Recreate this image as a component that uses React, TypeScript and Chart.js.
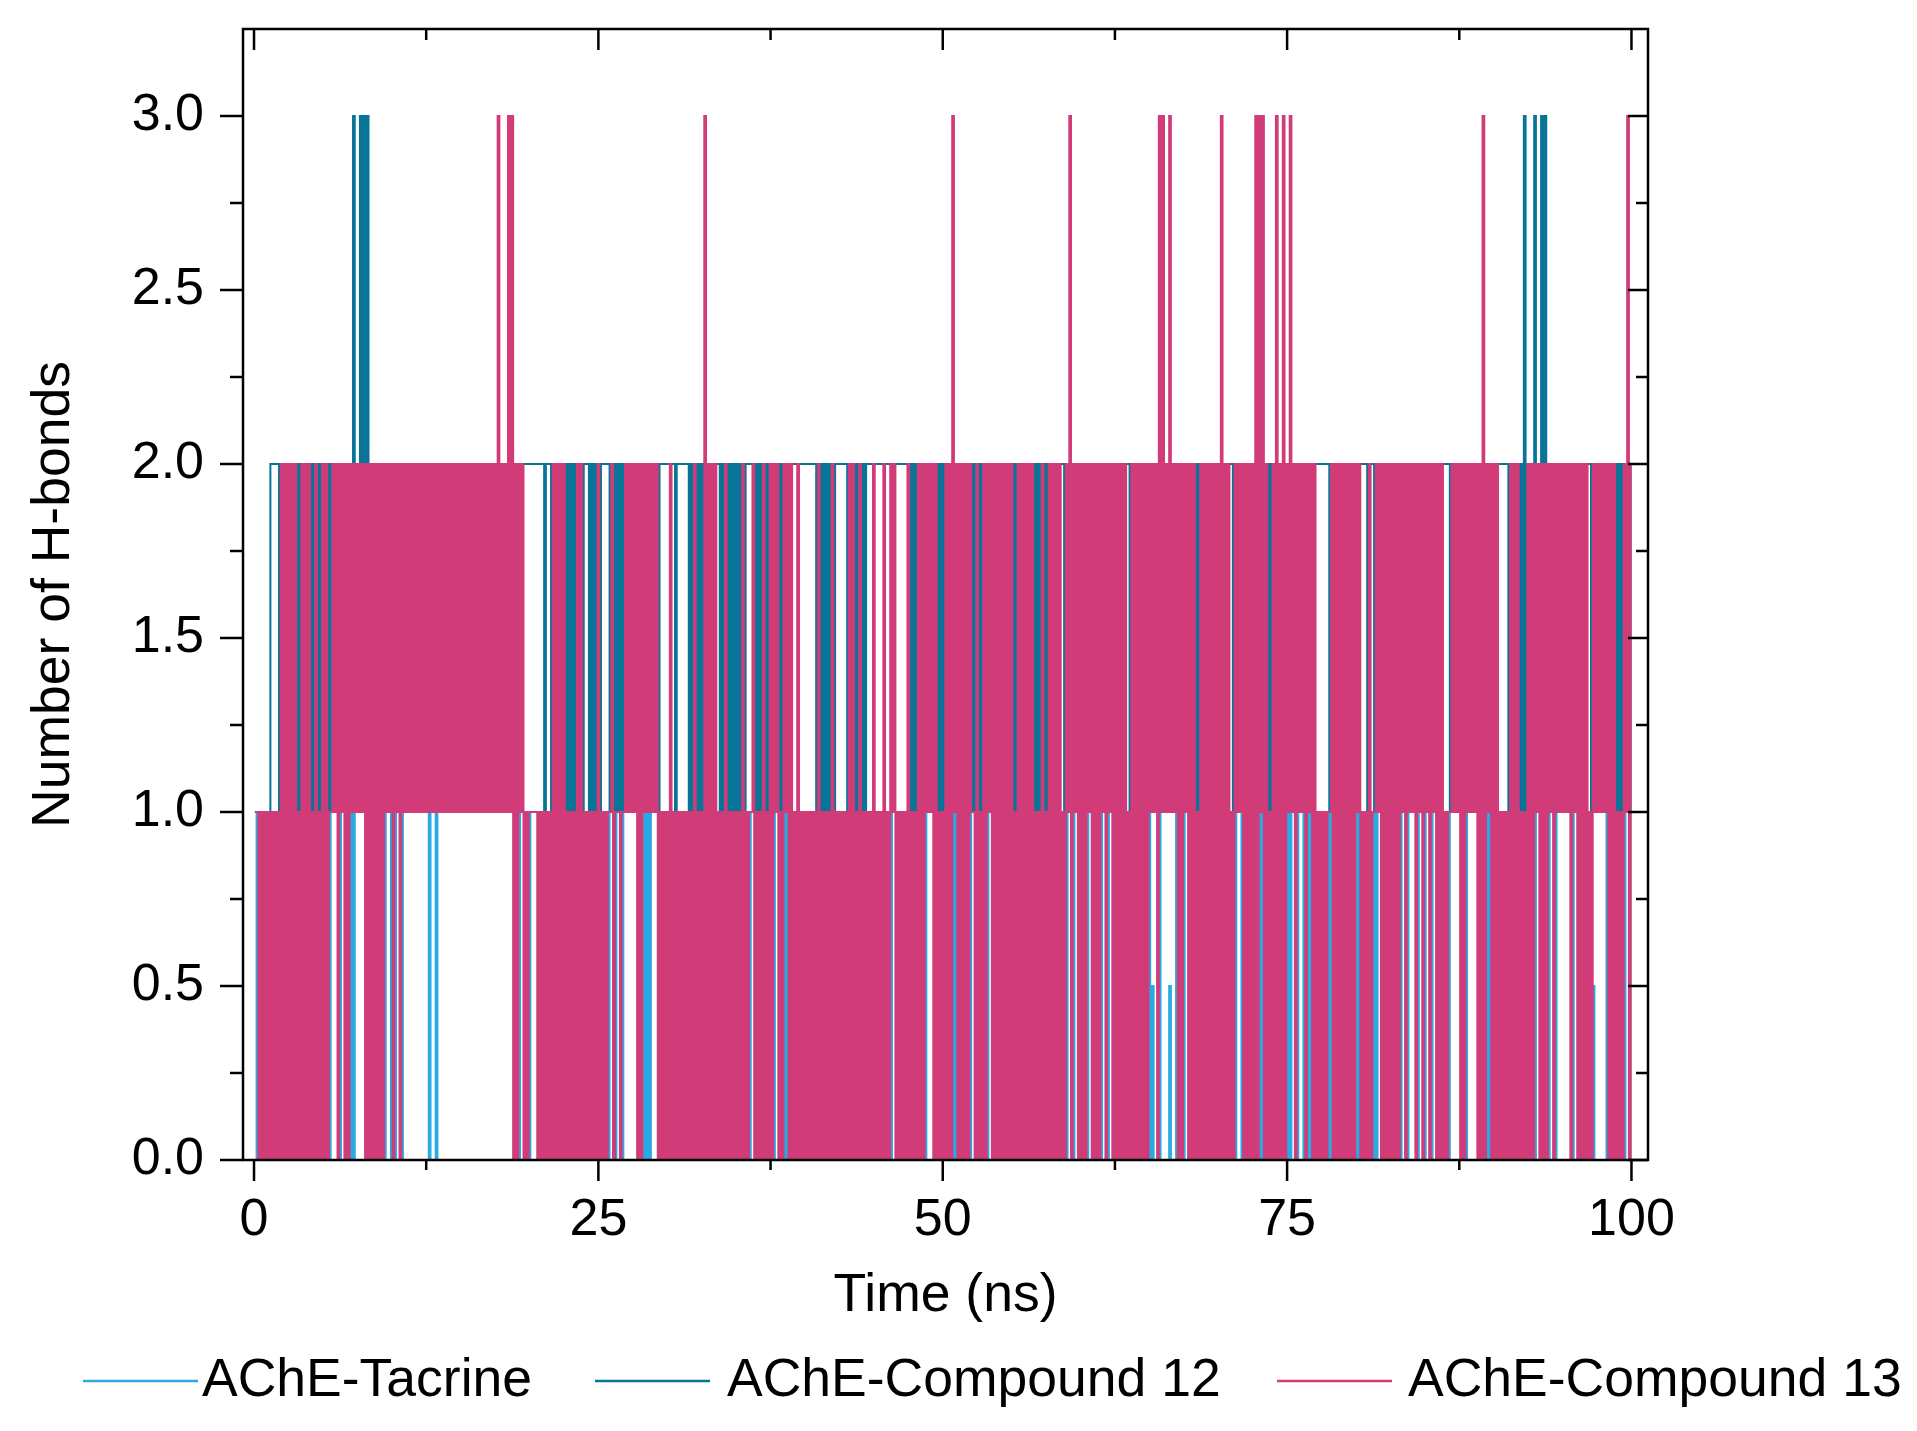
import React, { useEffect, useRef } from "react";
import { Chart, registerables } from "chart.js";

Chart.register(...registerables);

// ---------- data ----------
const seriesLabels = ["AChE-Tacrine", "AChE-Compound 12", "AChE-Compound 13"];
const seriesColors = ["#2aaae2", "#087598", "#d03b78"];

// Each character is one 0.25 ns time bin (groups of 4 = 1 ns, one string = 10 ns).
// The character gives the range [min, max] of the H-bond count inside that bin.
const binWidthNs = 0.25;
const binCodeRange: Record<string, [number, number]> = {
  "0": [0, 0],
  "1": [1, 1],
  "2": [2, 2],
  h: [0, 0.5],
  a: [0, 1],
  b: [1, 2],
  c: [0, 2],
  e: [1, 3],
  f: [0, 3],
};

const tacrineBins = [
  "aaaa aaaa aaaa aaaa aaaa aa00 a0aa a000 aaaa aa0a",
  "a0a0 0000 00a0 a000 0000 0000 0000 0000 000a a0aa",
  "00aa aaaa aaaa aaaa aaaa aaa0 a0a0 000a aaa0 0aaa",
  "aaaa aaaa aaaa aaaa aaaa aaaa 0aaa aaa0 aaaa aaaa",
  "aaaa aaaa aaaa aaaa aaaa aaaa a0aa aaaa aaa0 0aaa",
  "aaaa aaaa 0aaa a0aa aaaa aaaa aaaa aaaa aaaa 0a0a",
  "aa0a aa0a 0aaa aaaa aaaa h0a0 0h0a aa0a aaaa aaaa",
  "aaaa a0aa aaaa aaaa aaaa a0a0 aaaa aaaa aaaa aaaa",
  "aaaa aa0a aaaa a0a0 0a0a 0a0a aaa0 00aa 000a aaaa",
  "aaaa aaaa aaaa 0aaa 0a00 00a0 aaaa h000 aaaa aa0a",
];

const compound12Bins = [
  "1111 b22b bbbb bbbb bbbb bbbb bbbb ebee ebbb bbbb",
  "bbbb bbbb bbbb bbbb bbbb bbbb bbbb bbbb bbbb bb22",
  "2222 b2bb bbbb bbbb 2bbb b22b cbbb bbbb bbbb bb22",
  "22b2 22bb bbbb bb2b bbbb bbb2 2bbb bbbb bbbb 2222",
  "222b bbbb b222 bbbb bb22 2222 2222 22bb bbbb bbbb",
  "bbbb bbbb bbbb bbbb bbbb bbbb bbbb bbbb bb2b bbbb",
  "bbbb bbbb bbbb b2bb bbbb bbbb bbbb bbbb bbbb bbbb",
  "bbb2 bbbb bbbb bbbb bbbb bbbb bbbb 2222 bbbb bbbb",
  "b22b 2bbb bbbb bbbb bbbb bbbb b22b bbbb bbbb bbbb",
  "b222 bbbb ebbe beeb bbbb bbbb bbb2 bbbb bbbb bbbb",
];

const compound13Bins = [
  "1aaa aaac cccc accc acac cabb cbcc bbbb cccc ccbb",
  "cbcb bbbb bbbb bbbb bbbb bbbb bbbb bbeb beec cbaa",
  "11aa aacc ccaa acca aaac aaab a1ab bbbc cbbb baaa",
  "caaa aaac aafc ccaa caaa acaa baac accb acbc acaa",
  "aaac aaac aaaa ccac aaac aaca cbaa acaa cccb bcaa",
  "ccfb cccc 1cac cbcc cccc accc ccaa cacc ccac ecbc",
  "ccbc ccbc bccc cacc cccc bbfe bebb ccbc cacc cccc",
  "fcca cbbc ccff ecac fcfc ebcb bcbc aaaa bccc cccc",
  "baac abbc cccc cbcb bcbc bcbc caab bbcc bbbc fcbc",
  "caaa ccca accc bccc bcbb bbcb ccca cbbb bcca acec",
];

const xRange = [-0.8, 101.2];
const yRange = [0, 3.25];
const xMajorTicks = [0, 25, 50, 75, 100];
const xMinorTicks = [12.5, 37.5, 62.5, 87.5];
const yMajorTicks = [0, 0.5, 1, 1.5, 2, 2.5, 3];
const yMinorTicks = [0.25, 0.75, 1.25, 1.75, 2.25, 2.75];
const xTitle = "Time (ns)";
const yTitle = "Number of H-bonds";

// ---------- styling / layout ----------
const FONT = '"Liberation Sans", Arial, Helvetica, sans-serif';
const TICK_SIZE = 52;
const TEXT_SIZE = 53.5;
const legendLineLeft = [83, 595, 1277];
const legendTextLeft = [202, 727, 1408];
const legendLineLength = 115;
const legendY = 1381;

function decodeBins(rows: string[]) {
  const codes = rows.join("").replace(/\s+/g, "");
  const pts: { x: number; y: number }[] = [];
  for (let i = 0; i < codes.length; i++) {
    const range = binCodeRange[codes[i]];
    const t0 = i * binWidthNs;
    pts.push({ x: t0 + binWidthNs * 0.25, y: range[0] });
    pts.push({ x: t0 + binWidthNs * 0.75, y: range[1] });
  }
  return pts;
}

const framePlugin = {
  id: "originFrame",
  afterDraw(chart: any) {
    const { ctx, chartArea } = chart;
    const { left, right, top, bottom } = chartArea;
    const xs = chart.scales.x;
    const ys = chart.scales.y;
    ctx.save();
    ctx.strokeStyle = "#000";
    ctx.lineWidth = 2.5;
    ctx.lineCap = "butt";
    ctx.strokeRect(left, top, right - left, bottom - top);
    const seg = (x1: number, y1: number, x2: number, y2: number) => {
      ctx.beginPath();
      ctx.moveTo(x1, y1);
      ctx.lineTo(x2, y2);
      ctx.stroke();
    };
    xMajorTicks.forEach((v) => {
      const p = xs.getPixelForValue(v);
      seg(p, bottom, p, bottom + 21);
      seg(p, top, p, top + 21);
    });
    xMinorTicks.forEach((v) => {
      const p = xs.getPixelForValue(v);
      seg(p, bottom, p, bottom + 10);
      seg(p, top, p, top + 11);
    });
    yMajorTicks.forEach((v) => {
      const p = ys.getPixelForValue(v);
      seg(left - 23, p, left, p);
      seg(right, p, right - 20, p);
    });
    yMinorTicks.forEach((v) => {
      const p = ys.getPixelForValue(v);
      seg(left - 13, p, left, p);
      seg(right, p, right - 12, p);
    });

    // legend (line sample + label)
    ctx.font = `${TEXT_SIZE}px ${FONT}`;
    ctx.textBaseline = "middle";
    ctx.textAlign = "left";
    chart.data.datasets.forEach((ds: any, i: number) => {
      ctx.strokeStyle = ds.borderColor;
      ctx.lineWidth = 2.5;
      seg(legendLineLeft[i], legendY, legendLineLeft[i] + legendLineLength, legendY);
      ctx.fillStyle = "#000";
      ctx.fillText(ds.label, legendTextLeft[i], legendY);
    });
    ctx.restore();
  },
};

export default function App() {
  const canvasRef = useRef<HTMLCanvasElement | null>(null);

  useEffect(() => {
    const canvas = canvasRef.current;
    if (!canvas) return;
    const allBins = [tacrineBins, compound12Bins, compound13Bins];
    const chart = new Chart(canvas, {
      type: "line",
      data: {
        datasets: allBins.map((bins, i) => ({
          label: seriesLabels[i],
          data: decodeBins(bins),
          borderColor: seriesColors[i],
          backgroundColor: seriesColors[i],
          borderWidth: 2,
          pointRadius: 0,
          tension: 0,
          stepped: true,
          fill: false,
          borderJoinStyle: "miter",
          order: 2 - i,
        })),
      },
      options: {
        responsive: false,
        animation: false,
        devicePixelRatio: 1,
        parsing: false,
        normalized: true,
        events: [],
        layout: { padding: { left: 0, top: 29, right: 269, bottom: 0 } },
        plugins: {
          legend: { display: false },
          tooltip: { enabled: false },
          title: { display: false },
        },
        scales: {
          x: {
            type: "linear",
            position: "bottom",
            min: xRange[0],
            max: xRange[1],
            afterBuildTicks: (s: any) => {
              s.ticks = xMajorTicks.map((v) => ({ value: v }));
            },
            afterFit: (s: any) => {
              s.height = 271;
            },
            ticks: {
              font: { family: FONT, size: TICK_SIZE },
              color: "#000",
              padding: 7,
              maxRotation: 0,
              autoSkip: false,
              callback: (v: any) => String(v),
            },
            grid: {
              drawOnChartArea: false,
              drawTicks: true,
              tickLength: 22,
              color: "rgba(0,0,0,0)",
            },
            border: { display: false },
            title: {
              display: true,
              text: xTitle,
              font: { family: FONT, size: TEXT_SIZE },
              color: "#000",
              padding: { top: 0, bottom: 103 },
            },
          },
          y: {
            type: "linear",
            position: "left",
            min: yRange[0],
            max: yRange[1],
            afterBuildTicks: (s: any) => {
              s.ticks = yMajorTicks.map((v) => ({ value: v }));
            },
            afterFit: (s: any) => {
              s.width = 243;
            },
            ticks: {
              font: { family: FONT, size: TICK_SIZE, lineHeight: 1 },
              color: "#000",
              padding: 0,
              autoSkip: false,
              callback: (v: any) => Number(v).toFixed(1),
            },
            grid: {
              drawOnChartArea: false,
              drawTicks: true,
              tickLength: 39,
              color: "rgba(0,0,0,0)",
            },
            border: { display: false },
            title: {
              display: true,
              text: yTitle,
              font: { family: FONT, size: TEXT_SIZE },
              color: "#000",
              padding: { top: 22, bottom: 0 },
            },
          },
        },
      } as any,
      plugins: [framePlugin],
    });
    return () => chart.destroy();
  }, []);

  return (
    <div style={{ position: "absolute", left: 0, top: 0, width: 1917, height: 1431, background: "#fff" }}>
      <canvas ref={canvasRef} width={1917} height={1431} style={{ display: "block" }} />
    </div>
  );
}
